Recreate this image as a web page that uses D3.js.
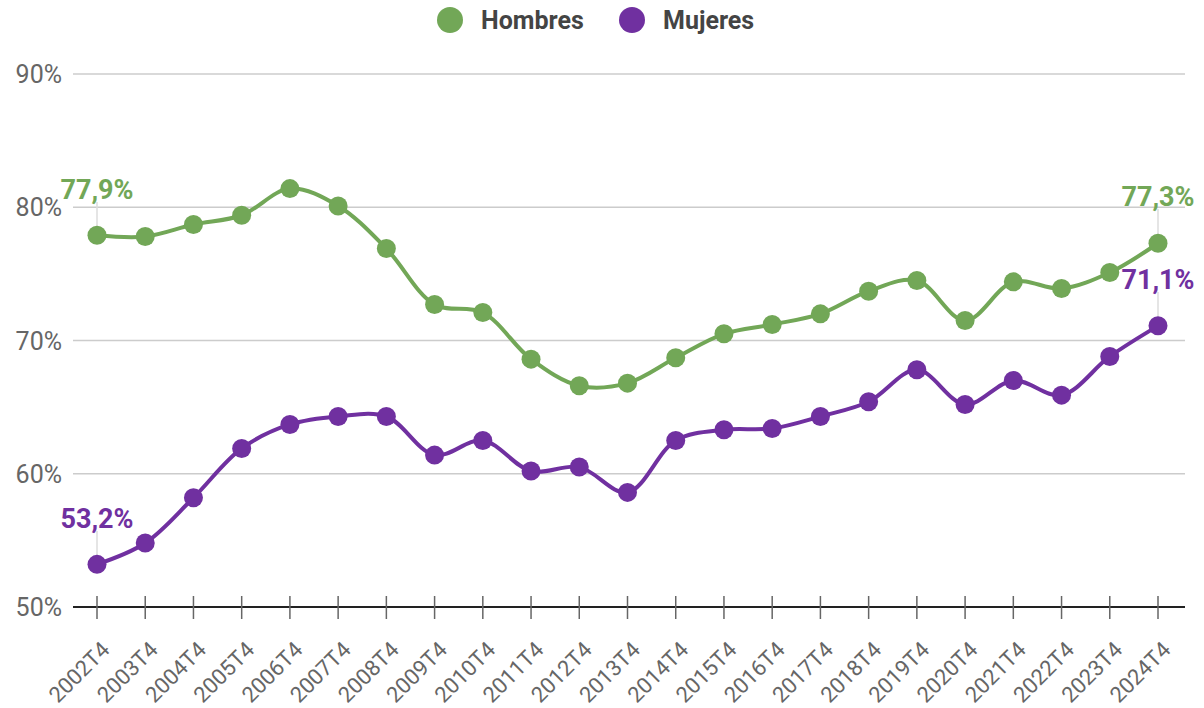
<!DOCTYPE html>
<html>
<head>
<meta charset="utf-8">
<script src="https://d3js.org/d3.v7.min.js"></script>
<style>
  body { margin: 0; background: #fff; font-family: Roboto, "Liberation Sans", Arial, sans-serif; }
  .grid line { stroke: #cccccc; stroke-width: 1.5; }
  .ylab { fill: #666; font-size: 25px; }
  .xlab { fill: #666; font-size: 22px; }
  .legend text { fill: #444; font-size: 25px; font-weight: bold; }
</style>
</head>
<body>
<div id="chart"></div>
<script>
  // data
  var periods = ["2002T4","2003T4","2004T4","2005T4","2006T4","2007T4","2008T4","2009T4","2010T4","2011T4",
                 "2012T4","2013T4","2014T4","2015T4","2016T4","2017T4","2018T4","2019T4","2020T4","2021T4",
                 "2022T4","2023T4","2024T4"];
  var hombres = [77.9, 77.8, 78.7, 79.4, 81.4, 80.1, 76.9, 72.7, 72.1, 68.6,
                 66.6, 66.8, 68.7, 70.5, 71.2, 72.0, 73.7, 74.5, 71.5, 74.4,
                 73.9, 75.1, 77.3];
  var mujeres = [53.2, 54.8, 58.2, 61.9, 63.7, 64.3, 64.3, 61.4, 62.5, 60.2,
                 60.5, 58.6, 62.5, 63.3, 63.4, 64.3, 65.4, 67.8, 65.2, 67.0,
                 65.9, 68.8, 71.1];
  var yTicks = [50, 60, 70, 80, 90];
  var seriesNames = ["Hombres", "Mujeres"];
  var colors = ["#72a757", "#7030a0"];

  var W = 1204, H = 708;
  var svg = d3.select("#chart").append("svg").attr("width", W).attr("height", H);

  var gridLeft = 73, gridRight = 1185;
  var x = d3.scalePoint().domain(periods).range([97, 1158]);
  var y = d3.scaleLinear().domain([50, 90]).range([607, 74]);

  // gridlines
  var grid = svg.append("g").attr("class", "grid");
  grid.selectAll("line").data(yTicks.filter(function(d) { return d > 50; })).enter().append("line")
    .attr("x1", gridLeft).attr("x2", gridRight)
    .attr("y1", function(d) { return y(d); }).attr("y2", function(d) { return y(d); });

  // y labels
  svg.append("g").selectAll("text").data(yTicks).enter().append("text")
    .attr("class", "ylab")
    .attr("x", 62).attr("y", function(d) { return y(d) + 9; })
    .attr("text-anchor", "end")
    .text(function(d) { return d + "%"; });

  // baseline axis
  svg.append("line").attr("x1", gridLeft).attr("x2", gridRight)
    .attr("y1", y(50)).attr("y2", y(50)).attr("stroke", "#222").attr("stroke-width", 2);
  svg.append("g").selectAll("line").data(periods).enter().append("line")
    .attr("x1", function(d) { return x(d); }).attr("x2", function(d) { return x(d); })
    .attr("y1", y(50) - 11).attr("y2", y(50) + 12)
    .attr("stroke", "#666").attr("stroke-width", 1.5);

  // x labels
  svg.append("g").selectAll("text").data(periods).enter().append("text")
    .attr("class", "xlab")
    .attr("text-anchor", "end")
    .attr("transform", function(d) { return "translate(" + (x(d) + 14) + ",651) rotate(-45)"; })
    .text(function(d) { return d; });

  var line = d3.line()
    .x(function(d, i) { return x(periods[i]); })
    .y(function(d) { return y(d); })
    .curve(d3.curveCatmullRom.alpha(0.5));

  var allSeries = [hombres, mujeres];

  // stems for annotations
  var fmt = function(v) { return v.toFixed(1).replace(".", ",") + "%"; };
  var annots = [
    { s: 0, i: 0, ly: 199 },
    { s: 0, i: periods.length - 1, ly: 206 },
    { s: 1, i: periods.length - 1, ly: 289 },
    { s: 1, i: 0, ly: 528 }
  ];
  svg.append("g").selectAll("line").data(annots).enter().append("line")
    .attr("x1", function(d) { return x(periods[d.i]); })
    .attr("x2", function(d) { return x(periods[d.i]); })
    .attr("y1", function(d) { return d.ly + 3; })
    .attr("y2", function(d) { return y(allSeries[d.s][d.i]); })
    .attr("stroke", "#dddddd").attr("stroke-width", 1.5);

  allSeries.forEach(function(vals, s) {
    svg.append("path").datum(vals)
      .attr("fill", "none").attr("stroke", colors[s]).attr("stroke-width", 4)
      .attr("d", line);
    svg.append("g").selectAll("circle").data(vals).enter().append("circle")
      .attr("cx", function(d, i) { return x(periods[i]); })
      .attr("cy", function(d) { return y(d); })
      .attr("r", 9.5)
      .attr("fill", colors[s]);
  });

  svg.append("g").selectAll("text").data(annots).enter().append("text")
    .attr("x", function(d) { return x(periods[d.i]); })
    .attr("y", function(d) { return d.ly; })
    .attr("text-anchor", "middle")
    .attr("font-size", 27).attr("font-weight", "bold")
    .attr("fill", function(d) { return colors[d.s]; })
    .text(function(d) { return fmt(allSeries[d.s][d.i]); });

  // legend
  var legend = svg.append("g").attr("class", "legend");
  var legX = [450, 632];
  seriesNames.forEach(function(n, s) {
    legend.append("circle").attr("cx", legX[s]).attr("cy", 20).attr("r", 13).attr("fill", colors[s]);
    legend.append("text").attr("x", legX[s] + 31).attr("y", 29).text(n);
  });
</script>
</body>
</html>
